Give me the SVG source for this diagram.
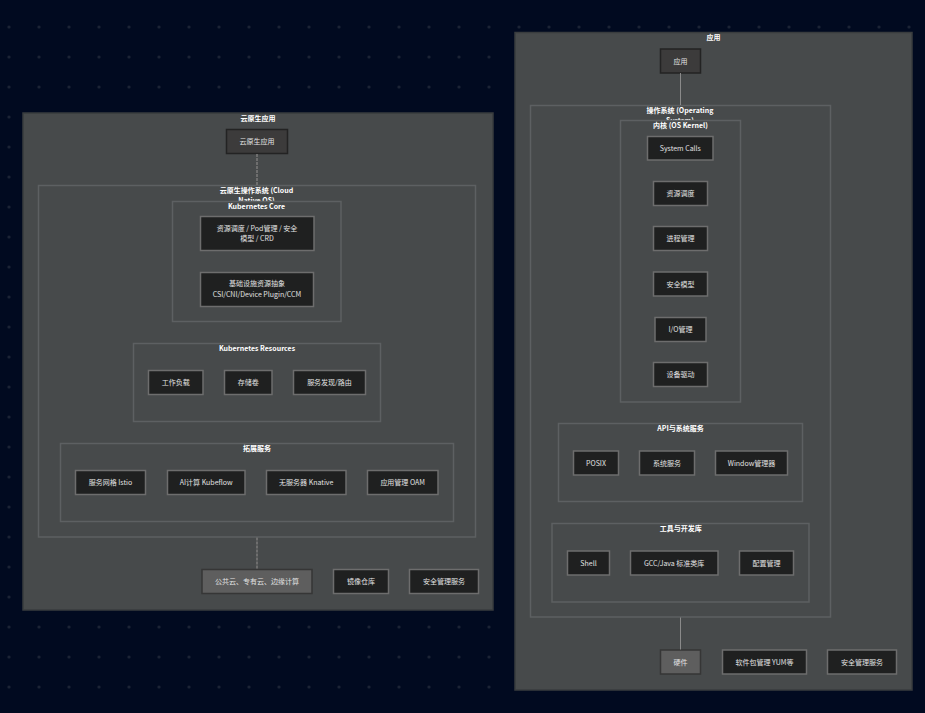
<svg xmlns="http://www.w3.org/2000/svg" width="925" height="713" viewBox="0 0 925 713">
<defs>
<pattern id="dots" x="0" y="0" width="30" height="30" patternUnits="userSpaceOnUse">
<circle cx="9" cy="27" r="1.6" fill="#1b2335"/>
</pattern>
<style>
text{font-family:"Noto Sans CJK SC","Liberation Sans",sans-serif;font-size:7px;text-anchor:middle}
.ttl{fill:#ffffff;font-weight:bold}
.lbl{fill:#e2e2e2}
.outer{fill:#474a4b;stroke:#393c3e;stroke-width:1.5}
.grp{fill:#474a4b;stroke:#5d6062;stroke-width:1.5}
.grpn{fill:none;stroke:#5d6062;stroke-width:1.5}
.node{fill:#1f2020;stroke:#6d6d6d;stroke-width:1.5}
.top{fill:#3c3b3b;stroke:#232323;stroke-width:1.5}
.base{fill:#5e5e5e;stroke:#363636;stroke-width:1.5}
.dash{stroke:#6e6e6e;stroke-width:2;stroke-dasharray:3 1;fill:none}
.solid{stroke:#8a8a8a;stroke-width:1;fill:none}
</style>
</defs>
<rect width="925" height="713" fill="#010a20"/>
<rect width="925" height="713" fill="url(#dots)"/>

<!-- LEFT: Cloud native -->
<g id="cloud-native-app-container">
<rect class="outer" x="23" y="113" width="470" height="497"/>
<text class="ttl" x="258" y="120.8">云原生应用</text>
</g>
<g id="cloud-native-os">
<rect class="grpn" x="38.5" y="185.5" width="437" height="351.5"/>
<text class="ttl" x="256.5" y="193">云原生操作系统 (Cloud</text>
<text class="ttl" x="256.5" y="203">Native OS)</text>
</g>
<g id="k8s-core">
<rect class="grp" x="172.5" y="201.5" width="168.5" height="120"/>
<text class="ttl" x="256.5" y="208.8">Kubernetes Core</text>
</g>
<g id="node-sched">
<rect class="node" x="200.5" y="216.5" width="113.5" height="34"/>
<text class="lbl" x="257" y="231">资源调度 / Pod管理 / 安全</text>
<text class="lbl" x="257" y="241">模型 / CRD</text>
</g>
<g id="node-infra">
<rect class="node" x="200.5" y="272.5" width="113" height="34"/>
<text class="lbl" x="257" y="286">基础设施资源抽象</text>
<text class="lbl" x="257" y="297">CSI/CNI/Device Plugin/CCM</text>
</g>
<g id="k8s-resources">
<rect class="grp" x="133.5" y="343.5" width="247" height="78"/>
<text class="ttl" x="257" y="350.8">Kubernetes Resources</text>
</g>
<g id="node-workload">
<rect class="node" x="148.5" y="370.5" width="54.5" height="24"/>
<text class="lbl" x="175.7" y="385">工作负载</text>
</g>
<g id="node-volume">
<rect class="node" x="224.5" y="370.5" width="47.5" height="24"/>
<text class="lbl" x="248.2" y="385">存储卷</text>
</g>
<g id="node-svc">
<rect class="node" x="293.5" y="370.5" width="72" height="24"/>
<text class="lbl" x="329.5" y="385">服务发现/路由</text>
</g>
<g id="ext-services">
<rect class="grp" x="60.5" y="443.5" width="393" height="78"/>
<text class="ttl" x="257" y="450.8">拓展服务</text>
</g>
<g id="node-istio">
<rect class="node" x="75.5" y="470.5" width="70" height="24"/>
<text class="lbl" x="110.5" y="485">服务网格 Istio</text>
</g>
<g id="node-kubeflow">
<rect class="node" x="167.5" y="470.5" width="77.5" height="24"/>
<text class="lbl" x="206.2" y="485">AI计算 Kubeflow</text>
</g>
<g id="node-knative">
<rect class="node" x="266.5" y="470.5" width="79.5" height="24"/>
<text class="lbl" x="306.2" y="485">无服务器 Knative</text>
</g>
<g id="node-oam">
<rect class="node" x="367.5" y="470.5" width="70.5" height="24"/>
<text class="lbl" x="402.7" y="485">应用管理 OAM</text>
</g>
<g id="node-cna">
<rect class="top" x="226.5" y="129.5" width="61" height="24"/>
<text class="lbl" x="257" y="144">云原生应用</text>
</g>
<g id="node-cloud">
<rect class="base" x="202" y="569.5" width="110" height="24"/>
<text class="lbl" x="257" y="584">公共云、专有云、边缘计算</text>
</g>
<g id="node-registry">
<rect class="node" x="333.5" y="569.5" width="55" height="24"/>
<text class="lbl" x="361" y="584">镜像仓库</text>
</g>
<g id="node-sec-left">
<rect class="node" x="409.5" y="569.5" width="69" height="24"/>
<text class="lbl" x="444" y="584">安全管理服务</text>
</g>

<!-- RIGHT: Traditional OS -->
<g id="app-container">
<rect class="outer" x="515" y="32.5" width="397" height="657.5"/>
<text class="ttl" x="713.5" y="39.8">应用</text>
</g>
<g id="os">
<rect class="grpn" x="530.5" y="105.5" width="300" height="511.5"/>
<text class="ttl" x="680" y="113.2">操作系统 (Operating</text>
<text class="ttl" x="680" y="123.2">System)</text>
</g>
<g id="kernel">
<rect class="grp" x="620.5" y="120.5" width="120" height="281.5"/>
<text class="ttl" x="680.5" y="127.8">内核 (OS Kernel)</text>
</g>
<g id="node-syscalls">
<rect class="node" x="647.5" y="136.5" width="65.5" height="23.5"/>
<text class="lbl" x="680.3" y="150.6">System Calls</text>
</g>
<g id="node-ksched">
<rect class="node" x="653.5" y="181.5" width="54" height="24"/>
<text class="lbl" x="680.5" y="196">资源调度</text>
</g>
<g id="node-proc">
<rect class="node" x="653.5" y="226.5" width="54" height="24"/>
<text class="lbl" x="680.5" y="241">进程管理</text>
</g>
<g id="node-secmodel">
<rect class="node" x="653.5" y="272" width="54" height="24"/>
<text class="lbl" x="680.5" y="286.5">安全模型</text>
</g>
<g id="node-io">
<rect class="node" x="655" y="317.5" width="51" height="24"/>
<text class="lbl" x="680.5" y="332">I/O管理</text>
</g>
<g id="node-driver">
<rect class="node" x="653.5" y="362.5" width="54" height="24"/>
<text class="lbl" x="680.5" y="377">设备驱动</text>
</g>
<g id="api-services">
<rect class="grp" x="558.5" y="423.5" width="244" height="78"/>
<text class="ttl" x="680.5" y="431.2">API与系统服务</text>
</g>
<g id="node-posix">
<rect class="node" x="573.5" y="451" width="45" height="24"/>
<text class="lbl" x="596" y="465.5">POSIX</text>
</g>
<g id="node-syssvc">
<rect class="node" x="639.5" y="451" width="55" height="24"/>
<text class="lbl" x="667" y="465.5">系统服务</text>
</g>
<g id="node-window">
<rect class="node" x="715.5" y="451" width="72" height="24"/>
<text class="lbl" x="751.5" y="465.5">Window管理器</text>
</g>
<g id="tools">
<rect class="grp" x="552" y="523.5" width="257" height="78.5"/>
<text class="ttl" x="680.7" y="531.2">工具与开发库</text>
</g>
<g id="node-shell">
<rect class="node" x="567.5" y="551" width="42" height="24"/>
<text class="lbl" x="588.5" y="565.5">Shell</text>
</g>
<g id="node-gcc">
<rect class="node" x="630.5" y="551" width="87.5" height="24"/>
<text class="lbl" x="674.2" y="565.5">GCC/Java 标准类库</text>
</g>
<g id="node-config">
<rect class="node" x="739.5" y="551" width="54" height="24"/>
<text class="lbl" x="766.5" y="565.5">配置管理</text>
</g>
<g id="node-app">
<rect class="top" x="660.5" y="49" width="40" height="24"/>
<text class="lbl" x="680.5" y="63.5">应用</text>
</g>
<g id="node-hw">
<rect class="base" x="660.5" y="650" width="40" height="24"/>
<text class="lbl" x="680.5" y="664.5">硬件</text>
</g>
<g id="node-yum">
<rect class="node" x="722.5" y="650" width="84" height="24"/>
<text class="lbl" x="764.5" y="664.5">软件包管理 YUM等</text>
</g>
<g id="node-sec-right">
<rect class="node" x="827.5" y="650" width="69" height="24"/>
<text class="lbl" x="862" y="664.5">安全管理服务</text>
</g>

<g id="connectors">
<line class="dash" x1="257" y1="154" x2="257" y2="185"/>
<line class="dash" x1="257" y1="537.5" x2="257" y2="569"/>
<line class="solid" x1="680.5" y1="73" x2="680.5" y2="105"/>
<line class="solid" x1="680.5" y1="617.5" x2="680.5" y2="649.5"/>
</g>
</svg>
